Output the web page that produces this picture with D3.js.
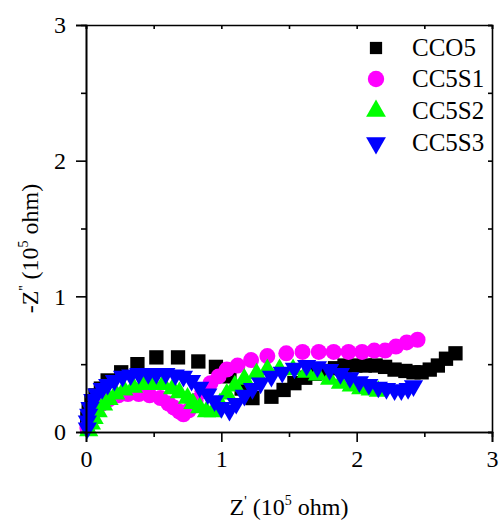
<!DOCTYPE html>
<html><head><meta charset="utf-8">
<script src="https://cdn.jsdelivr.net/npm/d3@7"></script>
<style>body{margin:0;background:#fff}svg{display:block}</style>
</head><body>
<script>
// ---- data (Z' and -Z'' in 10^5 ohm) ----
const seriesNames = ["CCO5", "CC5S1", "CC5S2", "CC5S3"];
const seriesColors = ["#000000", "#ff00ff", "#00ff00", "#0000ff"];
const seriesSymbols = ["square", "circle", "triangle", "triangleDown"];

const cco5X = [0.01,0.01,0.02,0.04,0.07,0.11,0.16,0.26,0.38,0.52,0.68,0.83,0.96,1.06,1.15,1.23,1.37,1.46,1.54,1.62,1.69,1.77,1.84,1.91,1.99,2.06,2.14,2.21,2.28,2.36,2.42,2.48,2.54,2.60,2.66,2.73];
const cco5Y = [0.04,0.10,0.16,0.22,0.27,0.32,0.38,0.44,0.50,0.55,0.55,0.52,0.48,0.41,0.32,0.25,0.26,0.31,0.36,0.40,0.43,0.45,0.47,0.49,0.49,0.49,0.49,0.48,0.46,0.45,0.44,0.44,0.46,0.49,0.54,0.58];

const cc5s1X = [0.01,0.03,0.05,0.08,0.12,0.17,0.24,0.31,0.39,0.47,0.55,0.61,0.65,0.69,0.72,0.76,0.81,0.86,0.92,0.98,1.04,1.12,1.22,1.34,1.48,1.60,1.72,1.83,1.94,2.04,2.13,2.21,2.29,2.37,2.45];
const cc5s1Y = [0.03,0.08,0.13,0.18,0.21,0.24,0.27,0.28,0.28,0.27,0.25,0.21,0.18,0.15,0.13,0.16,0.23,0.30,0.36,0.41,0.46,0.49,0.53,0.56,0.58,0.59,0.59,0.59,0.59,0.59,0.60,0.60,0.63,0.66,0.68];

const cc5s2X = [0.02,0.04,0.06,0.09,0.13,0.17,0.22,0.28,0.35,0.42,0.50,0.57,0.64,0.69,0.75,0.79,0.84,0.89,0.94,0.99,1.04,1.10,1.17,1.26,1.34,1.43,1.53,1.63,1.71,1.80,1.88,1.96,2.03,2.10,2.16];
const cc5s2Y = [0.01,0.06,0.10,0.15,0.20,0.24,0.28,0.31,0.33,0.35,0.35,0.35,0.32,0.29,0.25,0.21,0.18,0.15,0.15,0.21,0.28,0.34,0.39,0.43,0.46,0.46,0.46,0.44,0.42,0.39,0.36,0.34,0.32,0.31,0.30];

const cc5s3X = [0.01,0.01,0.02,0.03,0.05,0.08,0.12,0.16,0.21,0.27,0.33,0.39,0.46,0.52,0.59,0.66,0.72,0.78,0.84,0.90,0.95,1.00,1.06,1.11,1.17,1.23,1.29,1.37,1.45,1.54,1.63,1.71,1.80,1.88,1.95,2.02,2.09,2.16,2.22,2.28,2.33,2.38,2.42];
const cc5s3Y = [0.03,0.08,0.13,0.18,0.24,0.28,0.32,0.35,0.38,0.41,0.42,0.43,0.43,0.43,0.43,0.42,0.41,0.38,0.33,0.28,0.23,0.18,0.16,0.21,0.27,0.32,0.36,0.41,0.44,0.47,0.49,0.48,0.46,0.43,0.40,0.37,0.35,0.33,0.32,0.31,0.31,0.32,0.34];

const xTicks = [0, 1, 2, 3];
const yTicks = [0, 1, 2, 3];
const minorTicks = [0.5, 1.5, 2.5];

const seriesX = [cco5X, cc5s1X, cc5s2X, cc5s3X];
const seriesY = [cco5Y, cc5s1Y, cc5s2Y, cc5s3Y];

// ---- drawing ----
const W = 500, H = 521;
const m = {left: 86, right: 8, top: 25, bottom: 89};
const svg = d3.select("body").append("svg").attr("width", W).attr("height", H);
svg.append("rect").attr("width", W).attr("height", H).attr("fill", "#fff");

const x = d3.scaleLinear().domain([0, 3]).range([m.left, W - m.right]);
const y = d3.scaleLinear().domain([0, 3]).range([H - m.bottom, m.top]);
const font = "Liberation Serif";

function symbolFor(name, size) {
  if (name === "square") return d3.symbol(d3.symbolSquare, size)();
  if (name === "circle") return d3.symbol(d3.symbolCircle, size)();
  return d3.symbol(d3.symbolTriangle, size)();
}
const sizes = {square: 205, circle: 200, triangle: 160, triangleDown: 160};

const plot = svg.append("g");
seriesNames.forEach((name, i) => {
  const pts = seriesX[i].map((v, k) => [v, seriesY[i][k]]);
  const sym = seriesSymbols[i];
  plot.append("g").selectAll("path").data(pts).join("path")
    .attr("d", symbolFor(sym, sizes[sym]))
    .attr("transform", d => `translate(${x(d[0])},${y(d[1])})` + (sym === "triangleDown" ? " rotate(180)" : ""))
    .attr("fill", seriesColors[i]);
});

// axes
function styleAxis(g) {
  g.attr("font-family", font).attr("font-size", 24);
  g.selectAll(".domain").attr("stroke", "#000").attr("stroke-width", 1.6);
  g.selectAll(".tick line").attr("stroke", "#000").attr("stroke-width", 1.6);
  g.selectAll("text").attr("font-family", font).attr("font-size", 24).attr("fill", "#000");
}
const xb = svg.append("g").attr("transform", `translate(0,${y(0)})`)
  .call(d3.axisBottom(x).tickValues(xTicks).tickSize(10).tickPadding(8).tickFormat(d3.format("d")));
styleAxis(xb);
const xbm = svg.append("g").attr("transform", `translate(0,${y(0)})`)
  .call(d3.axisBottom(x).tickValues(minorTicks).tickSize(5).tickFormat(""));
styleAxis(xbm);
const yl = svg.append("g").attr("transform", `translate(${x(0)},0)`)
  .call(d3.axisLeft(y).tickValues(yTicks).tickSize(10).tickPadding(10).tickFormat(d3.format("d")));
styleAxis(yl);
const ylm = svg.append("g").attr("transform", `translate(${x(0)},0)`)
  .call(d3.axisLeft(y).tickValues(minorTicks).tickSize(5).tickFormat(""));
styleAxis(ylm);
// top and right (inward ticks)
const xt = svg.append("g").attr("transform", `translate(0,${y(3)})`)
  .call(d3.axisTop(x).tickValues(xTicks.concat(minorTicks)).tickSize(-4).tickFormat(""));
styleAxis(xt);
const yr = svg.append("g").attr("transform", `translate(${x(3)},0)`)
  .call(d3.axisRight(y).tickValues(yTicks.concat(minorTicks)).tickSize(-4).tickFormat(""));
styleAxis(yr);

// axis titles
const xt1 = svg.append("text").attr("x", x(1.5)).attr("y", 515)
  .attr("text-anchor", "middle").attr("font-family", font).attr("font-size", 24).attr("fill", "#000");
xt1.append("tspan").text("Z");
xt1.append("tspan").attr("font-size", 14).attr("dy", -9).text("'");
xt1.append("tspan").attr("dy", 9).text(" (10");
xt1.append("tspan").attr("font-size", 14).attr("dy", -10).text("5");
xt1.append("tspan").attr("dy", 10).text(" ohm)");

const yt1 = svg.append("text").attr("transform", `translate(38,${(y(0)+y(3))/2 + 20}) rotate(-90)`)
  .attr("text-anchor", "middle").attr("font-family", font).attr("font-size", 24).attr("fill", "#000");
yt1.append("tspan").text("-Z");
yt1.append("tspan").attr("font-size", 14).attr("dy", -9).text("''");
yt1.append("tspan").attr("dy", 9).text(" (10");
yt1.append("tspan").attr("font-size", 14).attr("dy", -10).text("5");
yt1.append("tspan").attr("dy", 10).text(" ohm)");

// legend
const legY = [48, 79, 111, 143];
const lg = svg.append("g");
seriesNames.forEach((name, i) => {
  const sym = seriesSymbols[i];
  lg.append("path").attr("d", symbolFor(sym, sym === "square" ? 150 : sizes[sym] + 10))
    .attr("transform", `translate(376,${legY[i]})` + (sym === "triangleDown" ? " rotate(180)" : ""))
    .attr("fill", seriesColors[i]);
  lg.append("text").attr("x", 412).attr("y", legY[i] + 8).attr("font-family", font)
    .attr("font-size", 25).attr("fill", "#000").text(name);
});
</script>
</body></html>
